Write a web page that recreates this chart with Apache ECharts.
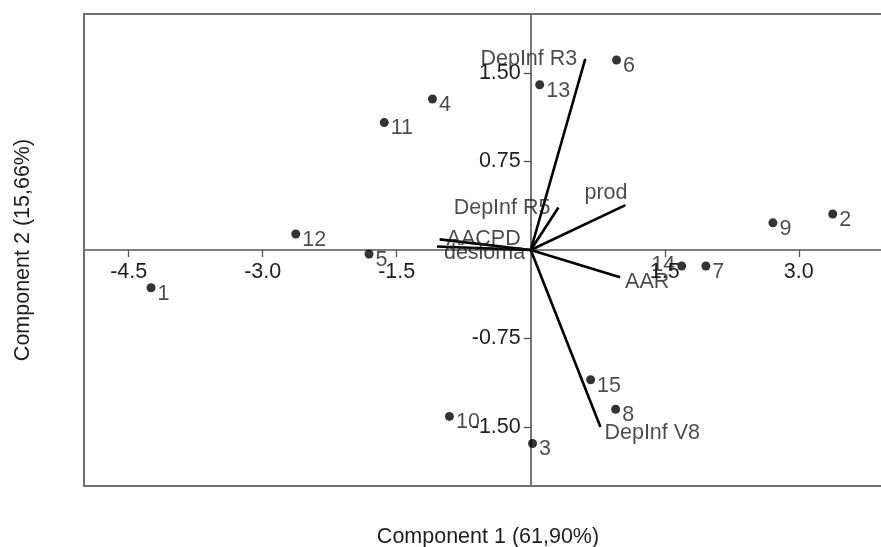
<!DOCTYPE html>
<html>
<head>
<meta charset="utf-8">
<script src="https://cdn.jsdelivr.net/npm/echarts@6/dist/echarts.min.js"></script>
<style>html,body{margin:0;padding:0;background:#fff;}#c{width:881px;height:547px;}</style>
</head>
<body>
<div id="c"></div>
<script>
// ---- data ----
const pointNames = ['1','2','3','4','5','6','7','8','9','10','11','12','13','14','15'];
const pointX = [-4.25, 3.38, 0.02, -1.10, -1.81, 0.96, 1.96, 0.95, 2.71, -0.91, -1.64, -2.63, 0.10, 1.69, 0.67];
const pointY = [-0.32, 0.305, -1.64, 1.28, -0.034, 1.61, -0.136, -1.35, 0.23, -1.41, 1.08, 0.136, 1.40, -0.136, -1.10];

const vectorNames = ['DepInf R3', 'DepInf R5', 'prod', 'AACPD', 'desloma', 'AAR', 'DepInf V8'];
const vectorX = [0.61, 0.31, 1.06, -1.02, -1.05, 1.00, 0.78];
const vectorY = [1.62, 0.36, 0.38, 0.09, 0.03, -0.23, -1.50];

const xTicks = [-4.5, -3.0, -1.5, 1.5, 3.0];
const yTicks = [-1.5, -0.75, 0.75, 1.5];

const xTitle = 'Component 1 (61,90%)';
const yTitle = 'Component 2 (15,66%)';

// ---- styles (kept apart from data) ----
const FONT = '"Liberation Sans", Arial, sans-serif';
const FS = 21.5;
const TXT = '#1e1e1e';
const AX = '#555';
const vectorLabelStyle = {
  'DepInf R3': {position: 'left',  offset: [-8, 0]},
  'DepInf R5': {position: 'left',  offset: [-8, 1]},
  'prod':      {position: 'left',  offset: [2, -12]},
  'AACPD':     {position: 'right', offset: [7, 0]},
  'desloma':   {position: 'right', offset: [7, 7]},
  'AAR':       {position: 'right', offset: [5, 5]},
  'DepInf V8': {position: 'right', offset: [4, 6]}
};
const pointLabelOverride = {
  '14': {position: 'left', offset: [0, -1]}
};

const G = {left: 84, top: 14, right: 0, bottom: 61};

const chart = echarts.init(document.getElementById('c'), null, {renderer: 'canvas'});

const series = [];
vectorNames.forEach((n, i) => {
  series.push({
    type: 'line',
    data: [[0, 0], [vectorX[i], vectorY[i]]],
    symbol: 'none',
    lineStyle: {color: '#000', width: 2.6},
    silent: true,
    z: 3
  });
});
series.push({
  type: 'scatter',
  symbolSize: 0,
  z: 4,
  data: vectorNames.map((n, i) => {
    const s = vectorLabelStyle[n];
    return {
      value: [vectorX[i], vectorY[i]],
      name: n,
      label: {show: true, position: s.position, distance: 0, offset: s.offset}
    };
  }),
  label: {show: true, formatter: p => p.name, color: TXT, fontSize: FS, fontFamily: FONT}
});
series.push({
  type: 'scatter',
  symbol: 'circle',
  symbolSize: 9,
  itemStyle: {color: '#000'},
  z: 5,
  data: pointNames.map((n, i) => {
    const o = pointLabelOverride[n];
    const d = {value: [pointX[i], pointY[i]], name: n};
    if (o) d.label = {position: o.position, offset: o.offset};
    return d;
  }),
  label: {show: true, position: 'right', distance: 2, offset: [0, 6],
          formatter: p => p.name, color: TXT, fontSize: FS, fontFamily: FONT}
});

chart.setOption({
  animation: false,
  backgroundColor: '#fff',
  grid: {left: G.left, top: G.top, right: G.right, bottom: G.bottom, show: false, containLabel: false},
  xAxis: {
    type: 'value', min: -5, max: 3.92, position: 'bottom',
    axisLine: {show: true, onZero: false, lineStyle: {color: AX, width: 1.6}},
    axisTick: {show: true, customValues: xTicks, length: 7, lineStyle: {color: AX, width: 1.3}},
    axisLabel: {show: true, customValues: xTicks, formatter: v => v.toFixed(1),
                color: TXT, fontSize: FS, fontFamily: FONT, margin: 11},
    splitLine: {show: false}
  },
  yAxis: {
    type: 'value', min: -2, max: 2, position: 'left',
    axisLine: {show: true, onZero: false, lineStyle: {color: AX, width: 1.6}},
    axisTick: {show: true, customValues: yTicks, length: 7, lineStyle: {color: AX, width: 1.3}},
    axisLabel: {show: true, customValues: yTicks, formatter: v => v.toFixed(2),
                color: TXT, fontSize: FS, fontFamily: FONT, margin: 10},
    splitLine: {show: false}
  },
  series: series
});

// Move the axes to cross at the origin, using the library's own scales
const origin = chart.convertToPixel({gridIndex: 0}, [0, 0]);
const W = chart.getWidth(), H = chart.getHeight();
const gl = G.left, gt = G.top, gb = H - G.bottom, gr = W - G.right;
chart.setOption({
  xAxis: {offset: -(gb - origin[1])},
  yAxis: {offset: -(origin[0] - gl)},
  graphic: [
    {type: 'polyline', silent: true, z: 1,
     shape: {points: [[gr + 5, gt], [gl, gt], [gl, gb], [gr + 5, gb]]},
     style: {stroke: '#707070', lineWidth: 2, fill: null}},
    {type: 'text', x: 488, y: 537, style: {text: xTitle, font: FS + 'px ' + FONT, fill: TXT,
      textAlign: 'center', textVerticalAlign: 'middle'}},
    {type: 'text', x: 23, y: 250, rotation: Math.PI / 2, style: {text: yTitle, font: FS + 'px ' + FONT, fill: TXT,
      textAlign: 'center', textVerticalAlign: 'middle'}}
  ]
});
</script>
</body>
</html>
